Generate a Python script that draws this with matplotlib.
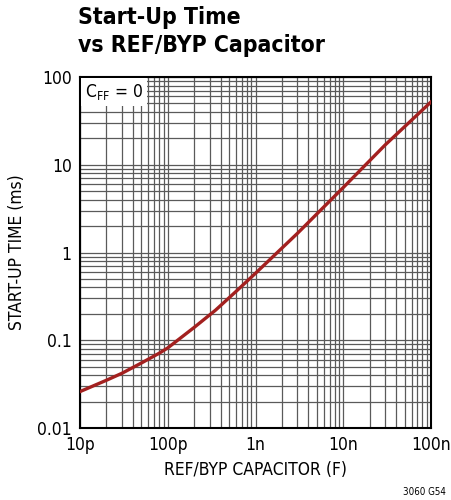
import matplotlib
matplotlib.use("Agg")
import matplotlib.pyplot as plt
from matplotlib.ticker import FixedLocator, LogLocator, NullFormatter

# start-up time vs REF/BYP capacitor, C_FF = 0
cap = [10e-12, 20e-12, 30e-12, 50e-12, 80e-12, 100e-12, 200e-12, 350e-12,
       600e-12, 1e-9, 3e-9, 10e-9, 30e-9, 100e-9]
t_ms = [0.026, 0.035, 0.042, 0.055, 0.0712, 0.0818, 0.14, 0.22,
        0.36, 0.58, 1.65, 5.5, 16.8, 52]

x_ticks = [1e-11, 1e-10, 1e-9, 1e-8, 1e-7]
x_labels = ["10p", "100p", "1n", "10n", "100n"]
y_ticks = [0.01, 0.1, 1, 10, 100]
y_labels = ["0.01", "0.1", "1", "10", "100"]

plt.rcParams["font.family"] = ["DejaVu Sans"]
plt.rcParams["font.stretch"] = "condensed"

fig = plt.figure(figsize=(4.51, 5.0), dpi=100)
ax = fig.add_axes([80 / 451, 1 - 428 / 500, 351 / 451, 351 / 500])

ax.plot(cap, t_ms, color="#a3201f", lw=2.4, zorder=3)

ax.set_xscale("log")
ax.set_yscale("log")
ax.set_xlim(1e-11, 1e-7)
ax.set_ylim(0.01, 100)

ax.xaxis.set_major_locator(FixedLocator(x_ticks))
ax.set_xticklabels(x_labels)
ax.yaxis.set_major_locator(FixedLocator(y_ticks))
ax.set_yticklabels(y_labels)
ax.xaxis.set_minor_locator(LogLocator(base=10, subs=range(2, 10)))
ax.yaxis.set_minor_locator(LogLocator(base=10, subs=range(2, 10)))
ax.xaxis.set_minor_formatter(NullFormatter())
ax.yaxis.set_minor_formatter(NullFormatter())
ax.tick_params(which="both", length=0, labelsize=12.5, pad=6)

ax.grid(which="both", color="#5a5a5a", lw=0.9)
ax.set_axisbelow(True)
for s in ax.spines.values():
    s.set_linewidth(1.5)
    s.set_color("black")

ax.set_xlabel("REF/BYP CAPACITOR (F)", fontsize=12.5, labelpad=5)
ax.set_ylabel("START-UP TIME (ms)", fontsize=12.5, labelpad=8)

ax.text(0.014, 0.985, "C$_{\\mathregular{FF}}$ = 0", transform=ax.transAxes,
        fontsize=12.5, va="top", ha="left",
        bbox=dict(facecolor="white", edgecolor="none", pad=3), zorder=4)

fig.text(78 / 451, 1 - 6 / 500, "Start-Up Time\nvs REF/BYP Capacitor",
         fontsize=16.5, fontweight="bold", va="top", ha="left", linespacing=1.3)
fig.text(446 / 451, 1 - 492 / 500, "3060 G54", fontsize=7, ha="right", va="center")

fig.savefig("out.png", dpi=100)
